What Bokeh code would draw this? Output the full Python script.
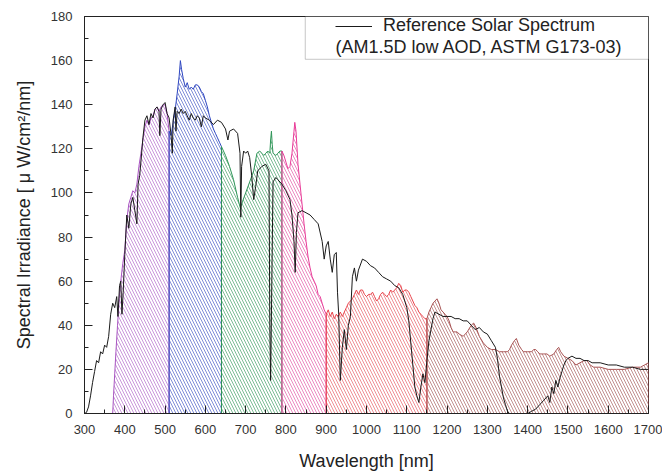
from bokeh.plotting import figure
from bokeh.models import Range1d, SingleIntervalTicker, Label, BoxAnnotation, Legend, LegendItem
from bokeh.embed import file_html
from bokeh.resources import INLINE

# ---------------- data ----------------
# Reference solar spectrum AM1.5D (uW/cm2/nm)
ref_wl = [300, 305, 310, 315, 320, 325, 330, 335, 340, 345, 350, 355, 360, 365, 370, 375, 380, 383, 387, 390,
          393, 396, 400, 405, 410, 415, 420, 425, 430, 433, 437, 440, 445, 450, 455, 460, 465, 470, 475, 480,
          485, 487, 490, 495, 500, 505, 510, 515, 518, 520, 525, 527, 530, 535, 540, 545, 550, 555, 560, 565, 570,
          575, 580, 585, 590, 595, 600, 610, 620, 630, 640, 650, 656, 660, 670, 680, 686, 688, 690, 695, 700,
          705, 710, 715, 720, 725, 730, 740, 750, 758, 760, 762, 765, 768, 775, 780, 790, 800, 810, 815, 820,
          823, 826, 830, 840, 850, 860, 870, 880, 890, 895, 900, 905, 910, 915, 920, 925, 928, 931, 935, 940,
          945, 950, 955, 960, 965, 970, 975, 980, 990, 1000, 1010, 1020, 1030, 1040, 1050, 1060, 1070, 1080, 1090, 1100,
          1105, 1110, 1115, 1120, 1125, 1130, 1135, 1140, 1145, 1150, 1155, 1160, 1165, 1170, 1180, 1190, 1200, 1210, 1220, 1230,
          1240, 1250, 1260, 1270, 1280, 1290, 1300, 1310, 1320, 1325, 1330, 1335, 1340, 1345, 1350, 1355, 1400, 1410, 1420, 1430,
          1440, 1450, 1455, 1460, 1465, 1470, 1475, 1480, 1485, 1490, 1495, 1500, 1510, 1520, 1530, 1540, 1550, 1560, 1580, 1600,
          1620, 1640, 1660, 1680, 1700]
ref_val = [0, 0.5, 3, 8, 14, 19, 24, 23, 28, 27, 31, 30, 35, 45, 50, 48, 53, 44, 58, 60,
           45, 55, 72, 90, 84, 95, 98, 92, 86, 104, 108, 114, 125, 133, 135, 131, 136, 134, 138, 139,
           137, 126, 138, 140, 141, 136, 134, 126, 118, 133, 139, 128, 137, 136, 138, 136, 137, 135, 133, 136, 134,
           133, 135, 134, 130, 135, 134, 133, 131, 133, 132, 129, 124, 128, 129, 127, 118, 89, 112, 119, 118,
           119, 116, 108, 97, 103, 110, 112, 113, 110, 40, 15, 60, 105, 107, 106, 104, 101, 97, 90, 78,
           64, 82, 91, 92, 91, 90, 88, 86, 78, 70, 76, 78, 70, 64, 72, 73, 55, 45, 15, 30,
           38, 29, 40, 44, 62, 66, 60, 65, 70, 69, 67, 66, 64, 62, 61, 60, 58, 57, 54, 48,
           42, 32, 22, 12, 8, 5, 12, 18, 14, 24, 33, 38, 43, 46, 45, 44, 44, 44, 43, 43,
           42, 42, 40, 38, 39, 37, 36, 33, 30, 25, 17, 12, 7, 4, 1, 0, 0, 1, 2, 4,
           6, 8, 5, 12, 9, 15, 12, 16, 19, 22, 24, 25, 26, 25, 25, 24, 24, 23, 23, 22,
           22, 21, 21, 20, 20]

# Sub-cell bands (hatched areas)
purple_wl = [370, 372, 375, 378, 382, 386, 390, 395, 400, 405, 410, 415, 420, 425, 430, 435, 440, 445, 450, 455,
             460, 465, 470, 475, 480, 485, 490, 495, 500, 505, 510]
purple_val = [0, 8, 18, 28, 40, 52, 60, 68, 74, 88, 95, 98, 101, 100, 104, 112, 118, 124, 130, 133,
              131, 134, 135, 138, 139, 137, 139, 140, 140, 136, 128]

blue_wl = [510, 515, 520, 526, 530, 535, 538, 541, 545, 550, 555, 560, 565, 570, 575, 580, 585, 590, 595, 600,
           605, 610, 615, 620, 625, 630, 635, 640]
blue_val = [128, 126, 132, 139, 145, 153, 160, 156, 152, 148, 150, 147, 148, 147, 149, 149, 148, 146, 145, 142,
            139, 135, 132, 129, 127, 125, 123, 121]

green_wl = [640, 650, 660, 670, 680, 687, 692, 700, 710, 720, 728, 735, 740, 745, 750, 755, 760, 762, 764, 766,
            768, 775, 780, 785, 790]
green_val = [121, 117, 112, 106, 98, 93, 96, 100, 105, 110, 118, 119, 118, 117, 118, 119, 118, 124, 128, 122,
             118, 117, 118, 119, 119]

pink_wl = [790, 795, 800, 805, 810, 815, 820, 822, 825, 830, 835, 840, 845, 850, 855, 860, 865, 870, 875, 880,
           885, 890, 895, 900]
pink_val = [119, 117, 114, 111, 112, 118, 128, 132, 128, 113, 104, 95, 86, 78, 71, 66, 62, 60, 58, 54,
            53, 50, 47, 45]

red_wl = [900, 905, 910, 915, 920, 925, 930, 935, 940, 945, 950, 955, 960, 965, 970, 975, 980, 985, 990, 995,
          1000, 1005, 1010, 1015, 1020, 1025, 1030, 1035, 1040, 1045, 1050, 1055, 1060, 1065, 1070, 1075, 1080, 1085, 1090, 1095,
          1100, 1105, 1110, 1115, 1120, 1125, 1130, 1135, 1140, 1145, 1150]
red_val = [45, 47, 44, 46, 43, 45, 44, 46, 44, 46, 48, 50, 51, 52, 54, 56, 54, 56, 56, 54,
           53, 54, 54, 55, 53, 51, 52, 54, 55, 54, 53, 54, 56, 55, 56, 57, 59, 58, 55, 56,
           56, 55, 53, 51, 49, 48, 46, 45, 44, 43, 43]

brown_wl = [1150, 1155, 1160, 1165, 1170, 1175, 1180, 1185, 1190, 1195, 1200, 1205, 1210, 1215, 1220, 1225, 1230, 1240, 1250, 1260,
            1266, 1272, 1280, 1290, 1300, 1310, 1320, 1330, 1340, 1350, 1355, 1360, 1367, 1372, 1378, 1385, 1390, 1400, 1410, 1415,
            1420, 1425, 1430, 1440, 1448, 1455, 1465, 1472, 1477, 1482, 1490, 1500, 1510, 1520, 1530, 1540, 1547, 1555, 1564, 1580,
            1600, 1620, 1640, 1660, 1680, 1690, 1700]
brown_val = [43, 46, 48, 50, 51, 52, 50, 47, 46, 45, 44, 42, 39, 37, 37, 37, 36, 35, 37, 40,
             41, 39, 35, 32, 30, 29, 29, 28, 28, 28, 29, 31, 33, 34, 31, 29, 28, 28, 28, 29,
             29, 28, 27, 27, 27, 26, 27, 29, 30, 28, 26, 25, 24, 22, 23, 24, 24, 22, 21, 21,
             20, 20, 20, 21, 21, 22, 23]

bands = [
    (purple_wl, purple_val, "#a855c0", "#b46ccc"),
    (blue_wl, blue_val, "#3048c0", "#4a5cc8"),
    (green_wl, green_val, "#2f9558", "#46a06a"),
    (pink_wl, pink_val, "#e83c98", "#e45aa6"),
    (red_wl, red_val, "#e8444c", "#e86068"),
    (brown_wl, brown_val, "#a85454", "#a86060"),
]

x_ticks_interval = 100
y_ticks_interval = 20

# ---------------- figure ----------------
p = figure(width=662, height=473, output_backend="svg", toolbar_location=None,
           x_range=Range1d(300, 1700), y_range=Range1d(0, 180))
p.min_border_left = 84
p.min_border_right = 14
p.min_border_top = 16
p.min_border_bottom = 59
p.background_fill_color = "white"
p.border_fill_color = "white"
p.outline_line_color = "#222222"
p.outline_line_width = 1
p.xgrid.visible = False
p.ygrid.visible = False

for wl, val, lc, hc in bands:
    px = [wl[0]] + list(wl) + [wl[-1]]
    py = [0] + list(val) + [0]
    p.patch(px, py, fill_color="white", fill_alpha=0,
            hatch_pattern="left_diagonal_line", hatch_color=hc, hatch_alpha=0.7,
            hatch_scale=6, hatch_weight=1,
            line_color=lc, line_width=1)

ref = p.line(ref_wl, ref_val, line_color="#1a1a1a", line_width=1)

# axes
p.xaxis.ticker = SingleIntervalTicker(interval=x_ticks_interval, num_minor_ticks=2)
p.yaxis.ticker = SingleIntervalTicker(interval=y_ticks_interval, num_minor_ticks=2)
for ax in (p.xaxis[0], p.yaxis[0]):
    ax.axis_line_color = "#222222"
    ax.major_tick_line_color = "#222222"
    ax.minor_tick_line_color = "#222222"
    ax.major_tick_in = 8
    ax.major_tick_out = 0
    ax.minor_tick_in = 4
    ax.minor_tick_out = 0
    ax.major_label_text_font = "Liberation Sans"
    ax.major_label_text_font_size = "13px"
    ax.major_label_text_color = "#333333"
    ax.axis_label_text_font = "Liberation Sans"
    ax.axis_label_text_font_size = "18px"
    ax.axis_label_text_font_style = "normal"
    ax.axis_label_text_color = "#222222"

p.xaxis.axis_label = "Wavelength [nm]"
p.yaxis.axis_label = "Spectral Irradiance [ \u03bc W/cm\u00b2/nm]"
p.xaxis.major_label_standoff = 11
p.yaxis.major_label_standoff = 12
p.xaxis.axis_label_standoff = 14
p.yaxis.axis_label_standoff = 14

# legend box
box = BoxAnnotation(left=848, right=1700, bottom=160.6, top=180,
                    fill_color="white", fill_alpha=1, line_color="#444444", line_width=1)
p.add_layout(box)

legend = Legend(items=[LegendItem(label="Reference Solar Spectrum", renderers=[ref])],
                location=(251, 377), padding=0, margin=0, glyph_width=37, glyph_height=20,
                label_standoff=11, label_text_font="Liberation Sans", label_text_font_size="18px",
                label_text_color="#222222", border_line_alpha=0, background_fill_alpha=0)
p.add_layout(legend)

second = Label(x=923, y=166, text="(AM1.5D low AOD, ASTM G173-03)", text_baseline="middle",
               text_font="Liberation Sans", text_font_size="18px", text_color="#222222")
p.add_layout(second)

open("out.html", "w").write(file_html(p, INLINE))
